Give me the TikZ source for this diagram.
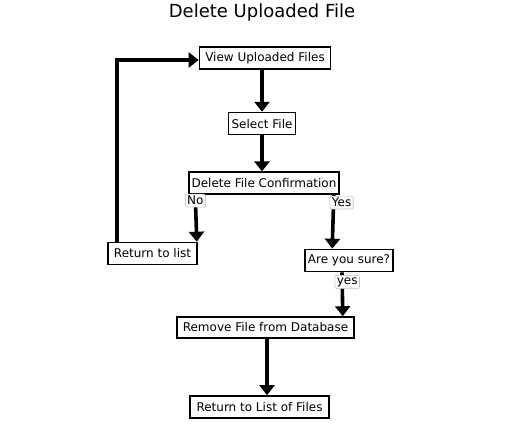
\documentclass[tikz,border=0pt]{standalone}
\usepackage{fontspec}
\setmainfont{DejaVu Sans}
\usepackage{tikz}
\usetikzlibrary{positioning,arrows.meta,calc}

\begin{document}
\begin{tikzpicture}[
  x=1pt, y=-1pt,
  every node/.style={font=\fontsize{12}{14}\selectfont, align=center},
  stepbox/.style={draw, line width=1.6pt, fill=white, inner sep=2pt, minimum height=22pt},
  lbl/.style={draw=black!25, rounded corners=2pt, fill=white, inner sep=2pt, line width=0.6pt},
  arr/.style={-{Triangle[length=10pt,width=15pt]}, line width=3.6pt}
]
  \useasboundingbox (0,0) rectangle (511,425);

  \node[font=\fontsize{18}{21}\selectfont] (title) at (262,13) {Delete Uploaded File};

  \node[stepbox, minimum width=131pt] (view) at (265,58) {View Uploaded Files};
  \node[stepbox, minimum width=67pt, below=42pt of view, xshift=-3pt] (select) {Select File};
  \node[stepbox, minimum width=150pt, below=36pt of select, xshift=2pt] (delete) {Delete File Confirmation};
  \node[stepbox, minimum width=89pt] (retlist) at (152.5,253.5) {Return to list};
  \node[stepbox, minimum width=88pt] (sure) at (349,260.5) {Are you sure?};
  \node[stepbox, minimum width=177pt, minimum height=21pt] (remove) at (265.5,327.5) {Remove File from Database};
  \node[stepbox, minimum width=139pt] (retfiles) at (259.5,407) {Return to List of Files};

  \draw[arr] (select.north |- view.south) -- (select.north);
  \draw[arr] (select) -- (select |- delete.north);
  \draw[arr] ($(delete.south west)+(7,0)$) -- node[lbl, pos=0.12] (no) {No} ($(retlist.north east)+(-1,0)$);
  \draw[arr] ($(delete.south east)+(-6,0)$) -- node[lbl, pos=0.14, xshift=8pt] (yes) {Yes} ($(sure.north west)+(28,0)$);
  \draw[arr] ($(sure.south)+(-7,0)$) -- node[lbl, pos=0.22, xshift=5pt] (yes2) {yes} ($(remove.north east)+(-12,0)$);
  \draw[arr] ($(remove.south)+(1.5,0)$) -- ($(retfiles.north)+(7.5,0)$);
  \draw[arr] ($(retlist.north west)+(10,0)$) |- ($(view.west)+(0,2)$);
\end{tikzpicture}
\end{document}
